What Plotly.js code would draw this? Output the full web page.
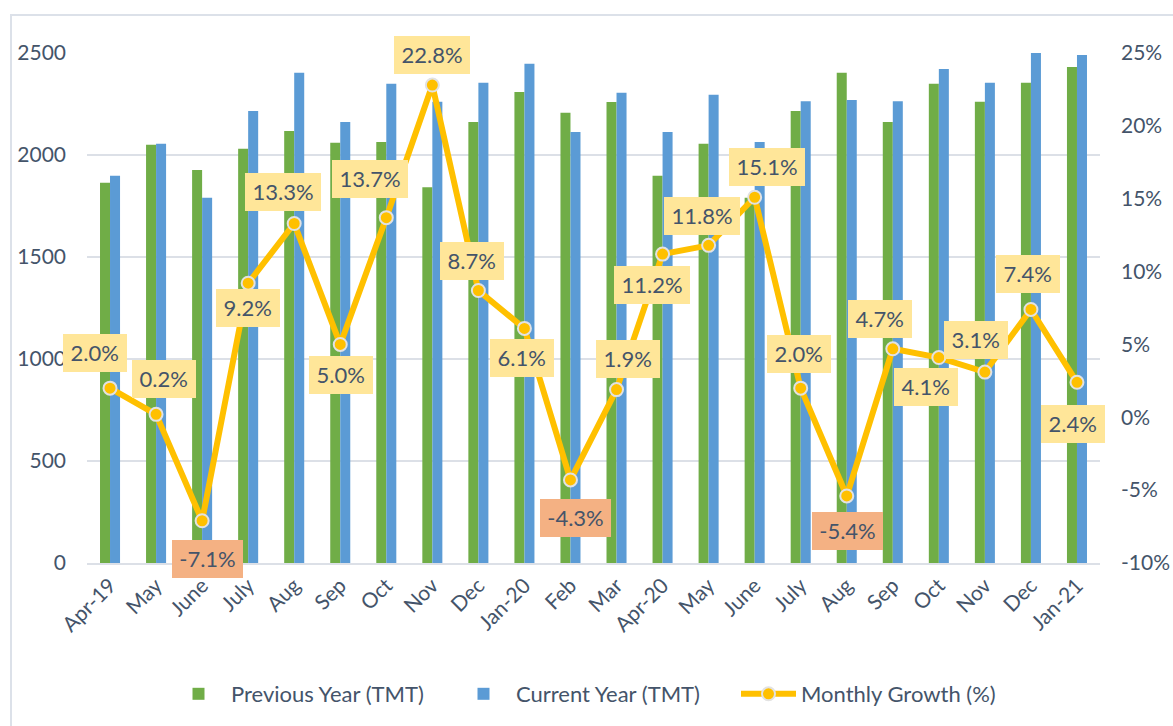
<!DOCTYPE html>
<html>
<head>
<meta charset="utf-8">
<script src="https://cdn.plot.ly/plotly-3.0.1.min.js"></script>
<style>
  html, body { margin: 0; padding: 0; background: #ffffff; }
  #chart { width: 1173px; height: 726px; }
</style>
</head>
<body>
<div id="chart"></div>
<script>
// ---- data ----
const categories = ["Apr-19","May","June","July","Aug","Sep","Oct","Nov","Dec","Jan-20","Feb","Mar",
                    "Apr-20","May","June","July","Aug","Sep","Oct","Nov","Dec","Jan-21"];
const previousYear = [1864, 2050, 1927, 2031, 2118, 2060, 2064, 1842, 2162, 2309, 2207, 2260,
                      1898, 2055, 1791, 2216, 2403, 2162, 2349, 2261, 2354, 2431];
const currentYear  = [1898, 2055, 1791, 2216, 2403, 2162, 2349, 2261, 2354, 2447, 2113, 2305,
                      2113, 2295, 2064, 2264, 2270, 2264, 2422, 2354, 2528, 2490];
const monthlyGrowth = [2.0, 0.2, -7.1, 9.2, 13.3, 5.0, 13.7, 22.8, 8.7, 6.1, -4.3, 1.9,
                       11.2, 11.8, 15.1, 2.0, -5.4, 4.7, 4.1, 3.1, 7.4, 2.4];
const growthLabels = monthlyGrowth.map(v => v.toFixed(1) + "%");
const leftTicks = [0, 500, 1000, 1500, 2000, 2500];
const rightTicks = [-10, -5, 0, 5, 10, 15, 20, 25];
const rightTickText = rightTicks.map(v => v + "%");

// ---- label placement (pixel offsets from each point: style only) ----
const labelDX = [-15, 8, 5, 0, -11, 1, -16, 0, -6, -2, 5, 11, -10.5, -7, 12, -2, 1, -12.5, -12.5, -9, -3, -4];
const labelDY = [-35, -35, 38, 25, -31, 31, -39, -30, -30, 29.5, 38, -30.5, 30.5, -29, -30, -34, 35, -30, 29, -32, -35, 42];

const FONT = "Lato, 'Open Sans', sans-serif";
const TXT = "#44546A";
const GRID = "#DCE0E7";

const idx = categories.map((c, i) => i);

const traces = [
  {
    type: "bar", name: "Previous Year (TMT)", x: idx, y: previousYear,
    marker: { color: "#70AD47" }, hoverinfo: "skip"
  },
  {
    type: "bar", name: "Current Year (TMT)", x: idx, y: currentYear,
    marker: { color: "#5B9BD5" }, hoverinfo: "skip"
  },
  {
    type: "scatter", mode: "lines+markers", name: "Monthly Growth (%)", x: idx, y: monthlyGrowth,
    yaxis: "y2",
    line: { color: "#FFC000", width: 6 },
    marker: { size: 13, color: "#FFC000", line: { color: "#E2E2E2", width: 2 } },
    hoverinfo: "skip", cliponaxis: false
  }
];

const annotations = monthlyGrowth.map((v, i) => {
  const t = growthLabels[i];
  const w = v < 0 ? 71 : (t.length >= 5 ? 76 : 63.5);
  return {
    x: idx[i], y: v, xref: "x", yref: "y2",
    text: t, showarrow: false,
    xshift: labelDX[i], yshift: -labelDY[i],
    bgcolor: v < 0 ? "#F4B183" : "#FFE699",
    borderwidth: 0, borderpad: 0,
    width: w, height: 37.5,
    font: { family: FONT, size: 22, color: TXT }
  };
});

const L = 87, R = 73, T = 53, B = 162, W = 1173, H = 726;
const pw = W - L - R, ph = H - T - B;
const px2x = p => (p - L) / pw;
const py2y = p => (H - B - p) / ph;

const layout = {
  width: W, height: H,
  margin: { l: L, r: R, t: T, b: B },
  paper_bgcolor: "#ffffff", plot_bgcolor: "#ffffff",
  font: { family: FONT, size: 21, color: TXT },
  barmode: "group", bargap: 0.565, bargroupgap: 0,
  showlegend: true,
  legend: {
    orientation: "h", x: 0.5, xanchor: "center", y: py2y(694), yanchor: "middle",
    font: { family: FONT, size: 22, color: TXT }, traceorder: "normal",
    itemwidth: 55, entrywidth: 215
  },
  xaxis: {
    range: [-0.5, categories.length - 0.5],
    tickmode: "array", tickvals: idx, ticktext: categories,
    tickangle: -45, showgrid: false, zeroline: false,
    showline: true, linecolor: GRID, linewidth: 2,
    ticks: "", tickfont: { family: FONT, size: 21, color: TXT }
  },
  yaxis: {
    range: [0, 2500], tickmode: "array", tickvals: leftTicks,
    showgrid: true, gridcolor: GRID, gridwidth: 2, zeroline: false,
    ticks: "", ticklabelstandoff: 20,
    tickfont: { family: FONT, size: 21, color: TXT }
  },
  yaxis2: {
    range: [-10, 25], tickmode: "array", tickvals: rightTicks, ticktext: rightTickText,
    overlaying: "y", side: "right", showgrid: false, zeroline: false,
    ticks: "", ticklabelstandoff: 20,
    tickfont: { family: FONT, size: 21, color: TXT }
  },
  annotations: annotations,
  shapes: [{
    type: "rect", xref: "paper", yref: "paper", layer: "below",
    x0: px2x(11), x1: px2x(1200), y0: py2y(800), y1: py2y(15),
    line: { color: "#DCE1E9", width: 2 }, fillcolor: "rgba(0,0,0,0)"
  }]
};

Plotly.newPlot("chart", traces, layout, { displayModeBar: false, staticPlot: true });
</script>
</body>
</html>
